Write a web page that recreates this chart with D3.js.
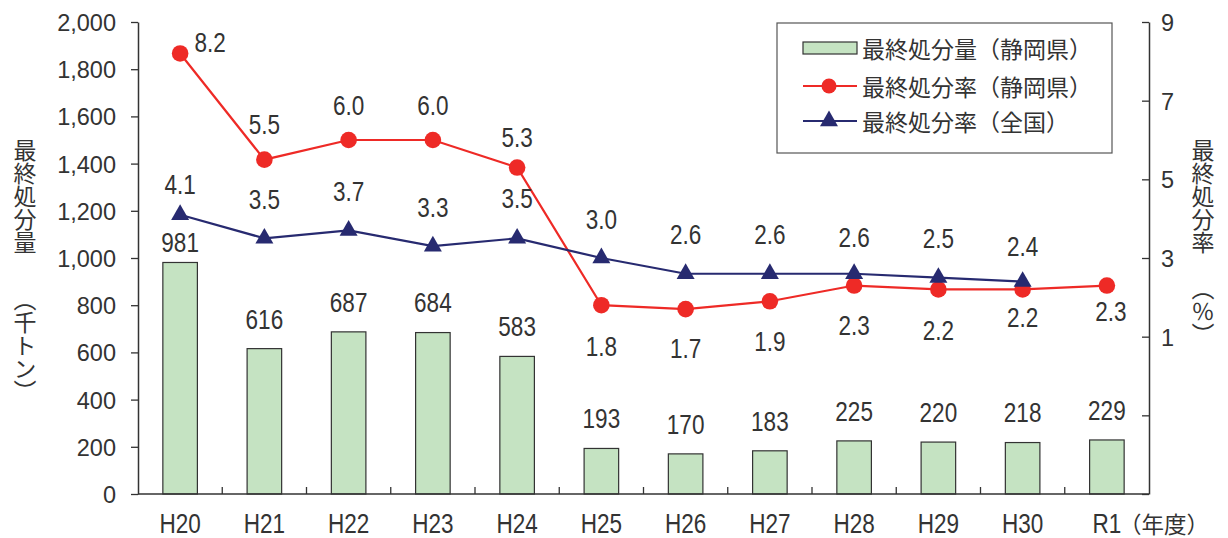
<!DOCTYPE html>
<html>
<head>
<meta charset="utf-8">
<script src="https://cdn.jsdelivr.net/npm/d3@7"></script>
<style>
  html, body { margin: 0; padding: 0; background: #fff; overflow: hidden; }
  svg { display: block; }
  .num { font-family: 'Liberation Sans', Arial, sans-serif; fill: #333; }
  .jp  { font-family: 'Noto Sans CJK JP', 'Noto Sans CJK SC', sans-serif; fill: #333; }
  .vt  { writing-mode: vertical-rl; }
</style>
</head>
<body>
<svg id="chart" width="1228" height="538"></svg>
<script>
// ---- data ----
const years = ["H20", "H21", "H22", "H23", "H24", "H25", "H26", "H27", "H28", "H29", "H30", "R1"];
const landfillAmount = [981, 616, 687, 684, 583, 193, 170, 183, 225, 220, 218, 229];      // 千トン
const rateShizuoka   = [8.2, 5.5, 6.0, 6.0, 5.3, 1.8, 1.7, 1.9, 2.3, 2.2, 2.2, 2.3];      // %
const rateNational   = [4.1, 3.5, 3.7, 3.3, 3.5, 3.0, 2.6, 2.6, 2.6, 2.5, 2.4];           // % (R1 なし)
const amountTicks    = [0, 200, 400, 600, 800, 1000, 1200, 1400, 1600, 1800, 2000];
const rateTicks      = [-3, -1, 1, 3, 5, 7, 9];
const rateTickLabels = [1, 3, 5, 7, 9];

const seriesNames = ["最終処分量（静岡県）", "最終処分率（静岡県）", "最終処分率（全国）"];

// label nudges [dx, dy] relative to each mark, to keep labels clear of the lines
const redLabelNudge  = [[30, -11], [0, -36], [0, -35], [0, -35], [0, -30], [0, 41],
                        [0, 39], [0, 40], [0, 40], [0, 41], [0, 28], [4, 26]];
const blueLabelNudge = [[0, -31], [0, -39], [0, -39], [0, -39], [0, -40], [0, -39],
                        [0, -40], [0, -40], [0, -37], [0, -40], [0, -36]];
const barLabelNudge  = [-20, -30, -30, -30, -30, -30, -30, -30, -30, -30, -30, -30];

(function draw() {
  // ---- layout ----
  const plotLeft = 138, plotRight = 1149, plotTop = 22, plotBottom = 494;
  const barColor = "#c5e3c2", red = "#ee2a26", navy = "#272a70", ink = "#333";
  const narrow = 0.82;   // horizontal squeeze for the condensed figures

  const svg = d3.select("#chart");

  const x = d3.scaleBand().domain(years).range([plotLeft, plotRight])
    .paddingInner(0.59).paddingOuter(0.295);
  const cx = d => x(d) + x.bandwidth() / 2;
  const yAmount = d3.scaleLinear().domain([0, 2000]).range([plotBottom, plotTop]);
  const yRate = d3.scaleLinear().domain([-3, 9]).range([plotBottom, plotTop]);

  // condensed number text placed at (px, py)
  const condensed = (sel, px, py, size) => sel
    .attr("class", "num").attr("text-anchor", "middle")
    .attr("transform", (d, i) => `translate(${px(d, i)},${py(d, i)}) scale(${narrow},1)`)
    .style("font-size", size + "px");

  // ---- bars ----
  svg.append("g").selectAll("rect").data(years).join("rect")
    .attr("x", d => x(d))
    .attr("y", (d, i) => yAmount(landfillAmount[i]))
    .attr("width", x.bandwidth())
    .attr("height", (d, i) => plotBottom - yAmount(landfillAmount[i]))
    .attr("fill", barColor).attr("stroke", ink).attr("stroke-width", 1.2);

  // ---- axes ----
  const leftAxis = svg.append("g").attr("transform", `translate(${plotLeft},0)`)
    .call(d3.axisLeft(yAmount).tickValues(amountTicks).tickSize(7).tickSizeOuter(0)
      .tickPadding(15).tickFormat(d3.format(",")));
  leftAxis.selectAll("text").attr("class", "num").style("font-size", "23.5px").attr("dy", "0.36em");

  const rightAxis = svg.append("g").attr("transform", `translate(${plotRight},0)`)
    .call(d3.axisRight(yRate).tickValues(rateTicks).tickSize(-7).tickSizeOuter(0)
      .tickPadding(12).tickFormat(d => rateTickLabels.includes(d) ? d : ""));
  rightAxis.selectAll("text").attr("class", "num").style("font-size", "23.5px").attr("dy", "0.36em");

  [leftAxis, rightAxis].forEach(g => {
    g.select(".domain").attr("stroke", ink).attr("stroke-width", 1.5);
    g.selectAll(".tick line").attr("stroke", ink).attr("stroke-width", 1.3);
    g.attr("font-family", null).attr("font-size", null);
  });

  // category axis: baseline, boundary ticks and labels
  svg.append("line").attr("x1", plotLeft).attr("x2", plotRight).attr("y1", plotBottom).attr("y2", plotBottom)
    .attr("stroke", ink).attr("stroke-width", 1.5);
  svg.append("g").selectAll("line").data(years.slice(1)).join("line")
    .attr("x1", d => x(d) - x.step() * 0.295).attr("x2", d => x(d) - x.step() * 0.295)
    .attr("y1", plotBottom).attr("y2", plotBottom - 7)
    .attr("stroke", ink).attr("stroke-width", 1.3);
  svg.append("g").selectAll("text").data(years).join("text")
    .call(condensed, d => cx(d), () => 533, 27.5)
    .text(d => d);
  svg.append("text").attr("class", "jp").attr("x", 1119).attr("y", 523)
    .attr("dominant-baseline", "central").style("font-size", "22.5px").text("（年度）");

  // ---- lines ----
  const rateLine = d3.line().x((d, i) => cx(years[i])).y(d => yRate(d));
  svg.append("path").datum(rateShizuoka).attr("d", rateLine)
    .attr("fill", "none").attr("stroke", red).attr("stroke-width", 2.2);
  svg.append("g").selectAll("circle").data(rateShizuoka).join("circle")
    .attr("cx", (d, i) => cx(years[i])).attr("cy", d => yRate(d)).attr("r", 8.3)
    .attr("fill", red);

  const tri = d3.symbol().type(d3.symbolTriangle).size(140);
  svg.append("path").datum(rateNational).attr("d", rateLine)
    .attr("fill", "none").attr("stroke", navy).attr("stroke-width", 2.2);
  svg.append("g").selectAll("path").data(rateNational).join("path")
    .attr("d", tri)
    .attr("transform", (d, i) => `translate(${cx(years[i])},${yRate(d)})`)
    .attr("fill", navy);

  // ---- value labels (centre of the figures sits 0.36em below the baseline offset) ----
  const lblSize = 27.5, lblShift = lblSize * 0.36;
  svg.append("g").selectAll("text").data(landfillAmount).join("text")
    .call(condensed, (d, i) => cx(years[i]), (d, i) => yAmount(d) + barLabelNudge[i] + lblShift, lblSize)
    .text(d => d);
  svg.append("g").selectAll("text").data(rateShizuoka).join("text")
    .call(condensed, (d, i) => cx(years[i]) + redLabelNudge[i][0],
          (d, i) => yRate(d) + redLabelNudge[i][1] + lblShift, lblSize)
    .text(d => d.toFixed(1));
  svg.append("g").selectAll("text").data(rateNational).join("text")
    .call(condensed, (d, i) => cx(years[i]) + blueLabelNudge[i][0],
          (d, i) => yRate(d) + blueLabelNudge[i][1] + lblShift, lblSize)
    .text(d => d.toFixed(1));

  // ---- vertical axis titles ----
  const leftTitle = svg.append("text").attr("class", "jp vt")
    .attr("x", 25).attr("y", 139).style("font-size", "23px");
  leftTitle.append("tspan").text("最終処分量");
  leftTitle.append("tspan").attr("dy", 34).text("（千トン）");

  const rightTitle = svg.append("text").attr("class", "jp vt")
    .attr("x", 1203).attr("y", 139).style("font-size", "23px");
  rightTitle.append("tspan").text("最終処分率");
  rightTitle.append("tspan").attr("dy", 23).text("（％）");

  // ---- legend ----
  const lg = svg.append("g");
  lg.append("rect").attr("x", 777).attr("y", 23).attr("width", 335).attr("height", 130)
    .attr("fill", "#fff").attr("stroke", "#555").attr("stroke-width", 1.2);
  const rowY = [48, 86, 121];
  lg.append("rect").attr("x", 803).attr("y", rowY[0] - 6).attr("width", 54).attr("height", 12)
    .attr("fill", barColor).attr("stroke", ink).attr("stroke-width", 1.2);
  lg.append("line").attr("x1", 803).attr("x2", 857).attr("y1", rowY[1]).attr("y2", rowY[1])
    .attr("stroke", red).attr("stroke-width", 2.2);
  lg.append("circle").attr("cx", 829).attr("cy", rowY[1]).attr("r", 7.5).attr("fill", red);
  lg.append("line").attr("x1", 803).attr("x2", 857).attr("y1", rowY[2]).attr("y2", rowY[2])
    .attr("stroke", navy).attr("stroke-width", 2.2);
  lg.append("path").attr("d", tri).attr("transform", `translate(829,${rowY[2]})`).attr("fill", navy);
  lg.selectAll("text.leg").data(seriesNames).join("text")
    .attr("class", "jp").attr("x", 862).attr("y", (d, i) => rowY[i])
    .attr("dominant-baseline", "central").style("font-size", "23px").text(d => d);
})();
</script>
</body>
</html>
